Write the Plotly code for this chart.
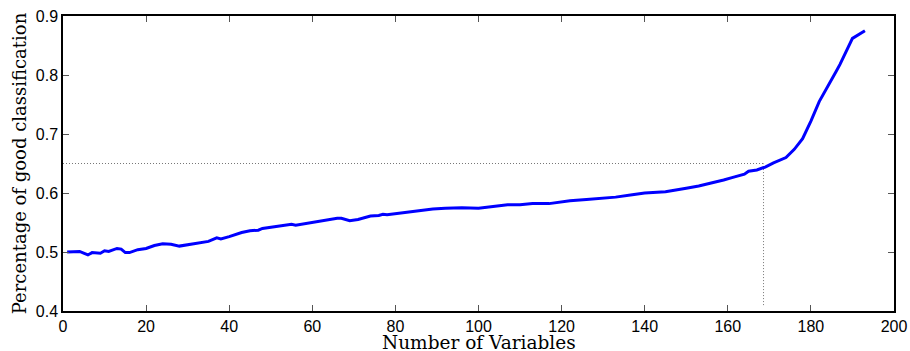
import plotly.graph_objects as go

# Number of variables (x) and percentage of good classification (y)
num_vars = [1, 2, 3, 4, 6, 7, 9, 10, 11, 12, 13, 14, 15, 16, 17, 18, 20, 22, 24, 26,
            28, 30, 32, 35, 37, 38, 40, 43, 45, 47, 48, 51, 53, 55, 56, 59, 62, 64, 66, 67,
            69, 71, 74, 76, 77, 78, 80, 82, 84, 87, 89, 92, 96, 100, 104, 107, 110, 113, 117, 119,
            122, 126, 130, 133, 137, 140, 145, 148, 150, 153, 155, 157, 159, 161, 164, 165, 167, 169, 171, 174,
            176, 178, 180, 182, 184, 186, 187, 188, 190, 193]
good_class = [0.500, 0.500, 0.500, 0.501, 0.495, 0.499, 0.498, 0.502, 0.501, 0.503, 0.506, 0.505, 0.499, 0.499, 0.502, 0.504, 0.506, 0.511, 0.514, 0.513,
              0.510, 0.512, 0.515, 0.518, 0.524, 0.522, 0.526, 0.533, 0.536, 0.537, 0.540, 0.543, 0.546, 0.547, 0.5455, 0.549, 0.553, 0.555, 0.557, 0.557,
              0.553, 0.555, 0.561, 0.562, 0.564, 0.563, 0.565, 0.567, 0.569, 0.572, 0.573, 0.574, 0.575, 0.574, 0.577, 0.580, 0.580, 0.582, 0.582, 0.584,
              0.587, 0.589, 0.591, 0.593, 0.597, 0.600, 0.602, 0.605, 0.608, 0.612, 0.615, 0.619, 0.622, 0.626, 0.632, 0.637, 0.639, 0.644, 0.651, 0.660,
              0.674, 0.692, 0.722, 0.755, 0.779, 0.805, 0.818, 0.832, 0.862, 0.875]

# Reference (dotted) guide lines
cutoff_x = 168.6
cutoff_y = 0.65
guide_x_start = 0
guide_y_bottom = 0.41

x_ticks = [0, 20, 40, 60, 80, 100, 120, 140, 160, 180, 200]
y_ticks = [0.4, 0.5, 0.6, 0.7, 0.8, 0.9]

x_title = "Number of Variables"
y_title = "Percentage of good classification"

fig = go.Figure()
fig.add_trace(go.Scatter(x=[guide_x_start, cutoff_x], y=[cutoff_y, cutoff_y], mode="lines",
                         line=dict(color="#777777", width=1, dash="1px,2px"), hoverinfo="skip"))
fig.add_trace(go.Scatter(x=[cutoff_x, cutoff_x], y=[guide_y_bottom, cutoff_y], mode="lines",
                         line=dict(color="#777777", width=1, dash="1px,2px"), hoverinfo="skip"))
fig.add_trace(go.Scatter(x=num_vars, y=good_class, mode="lines",
                         line=dict(color="#0000ff", width=3)))

axis_common = dict(showgrid=False, zeroline=False, showline=True, linecolor="black", linewidth=1.5,
                   ticks="inside", ticklen=6, tickcolor="#555555", tickwidth=1, mirror="ticks",
                   automargin=False,
                   tickfont=dict(family="Liberation Sans", size=16, color="black"))

fig.update_layout(
    width=910, height=351,
    margin=dict(l=63, r=16, t=16, b=40),
    plot_bgcolor="white", paper_bgcolor="white",
    showlegend=False,
    xaxis=dict(range=[0, 200], tickvals=x_ticks, ticktext=[str(v) for v in x_ticks], **axis_common),
    yaxis=dict(range=[0.4, 0.9], tickvals=y_ticks, ticktext=[f"{v:.1f}" for v in y_ticks],
               title=dict(text=y_title, standoff=4,
                          font=dict(family="DejaVu Serif", size=18, color="black")),
               **axis_common),
    annotations=[dict(text=x_title, xref="paper", yref="paper", x=0.5, y=0,
                      xanchor="center", yanchor="middle", yshift=-31, showarrow=False,
                      font=dict(family="DejaVu Serif", size=18.5, color="black"))],
)

fig.write_html("out.html")
